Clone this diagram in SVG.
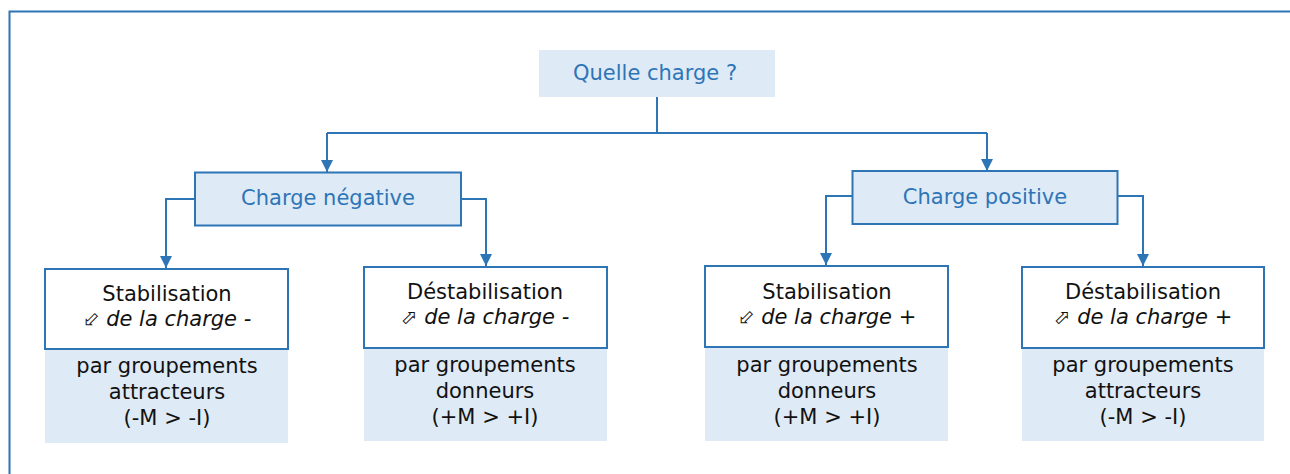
<svg xmlns="http://www.w3.org/2000/svg" width="1290" height="474" viewBox="0 0 1290 474">
<defs>
<marker id="ah" viewBox="0 0 10 10" refX="10" refY="5" markerWidth="6" markerHeight="6" orient="auto" markerUnits="strokeWidth">
<path d="M0,0 L10,5 L0,10 z" fill="#2E75B6"/>
</marker>
</defs>
<style>
text{font-family:"DejaVu Sans",Verdana,sans-serif;font-size:21px;text-anchor:middle}
.h{fill:#2E75B6}
.k{fill:#111}
.it{font-style:italic}
.sym{font-style:normal;font-size:20px}
.hb{fill:#DEEAF6;stroke:#2E75B6;stroke-width:2}
.wb{fill:#fff;stroke:#2E75B6;stroke-width:2}
.bb{fill:#DEEAF6;stroke:none}
.c{fill:none;stroke:#2E75B6;stroke-width:2;marker-end:url(#ah)}
.c0{fill:none;stroke:#2E75B6;stroke-width:2}
</style>
<rect width="1290" height="474" fill="#fff"/>
<path d="M9.5,474 V11.5 H1290" fill="none" stroke="#2E75B6" stroke-width="2"/>
<g id="connectors">
<path class="c0" d="M657,97 V133 M327,133 H987"/>
<path class="c" d="M327,133 V172"/>
<path class="c" d="M987,133 V171"/>
<path class="c" d="M195,199 H166 V268"/>
<path class="c" d="M461,199 H486 V266"/>
<path class="c" d="M852,196 H826 V265"/>
<path class="c" d="M1118,196 H1143 V266"/>
</g>
<g id="quelle">
<rect class="bb" x="539" y="50" width="236" height="47"/>
<text class="h" x="655" y="80">Quelle charge ?</text>
</g>
<g id="neg">
<rect class="hb" x="195" y="172.5" width="266" height="53"/>
<text class="h" x="328" y="205">Charge négative</text>
</g>
<g id="pos">
<rect class="hb" x="852.5" y="171" width="265" height="53"/>
<text class="h" x="985" y="204">Charge positive</text>
</g>
<g id="n1">
<rect class="bb" x="45" y="349" width="243" height="94"/>
<rect class="wb" x="45" y="269" width="243" height="80"/>
<text class="k" x="167" y="301">Stabilisation</text>
<text class="k it" x="167" y="326"><tspan class="sym">⬃</tspan> de la charge -</text>
<text class="k" x="167" y="373">par groupements</text>
<text class="k" x="167" y="399">attracteurs</text>
<text class="k" x="167" y="425">(-M &gt; -I)</text>
</g>
<g id="n2">
<rect class="bb" x="364" y="348" width="243" height="93"/>
<rect class="wb" x="364" y="267" width="243" height="81"/>
<text class="k" x="485" y="299">Déstabilisation</text>
<text class="k it" x="485" y="324"><tspan class="sym">⬀</tspan> de la charge -</text>
<text class="k" x="485" y="372">par groupements</text>
<text class="k" x="485" y="398">donneurs</text>
<text class="k" x="485" y="424">(+M &gt; +I)</text>
</g>
<g id="p1">
<rect class="bb" x="705" y="347" width="243" height="94"/>
<rect class="wb" x="705" y="266" width="243" height="81"/>
<text class="k" x="827" y="299">Stabilisation</text>
<text class="k it" x="827" y="324"><tspan class="sym">⬃</tspan> de la charge +</text>
<text class="k" x="827" y="372">par groupements</text>
<text class="k" x="827" y="398">donneurs</text>
<text class="k" x="827" y="424">(+M &gt; +I)</text>
</g>
<g id="p2">
<rect class="bb" x="1022" y="348" width="242" height="93"/>
<rect class="wb" x="1022" y="267" width="242" height="81"/>
<text class="k" x="1143" y="299">Déstabilisation</text>
<text class="k it" x="1143" y="324"><tspan class="sym">⬀</tspan> de la charge +</text>
<text class="k" x="1143" y="372">par groupements</text>
<text class="k" x="1143" y="398">attracteurs</text>
<text class="k" x="1143" y="424">(-M &gt; -I)</text>
</g>
</svg>
